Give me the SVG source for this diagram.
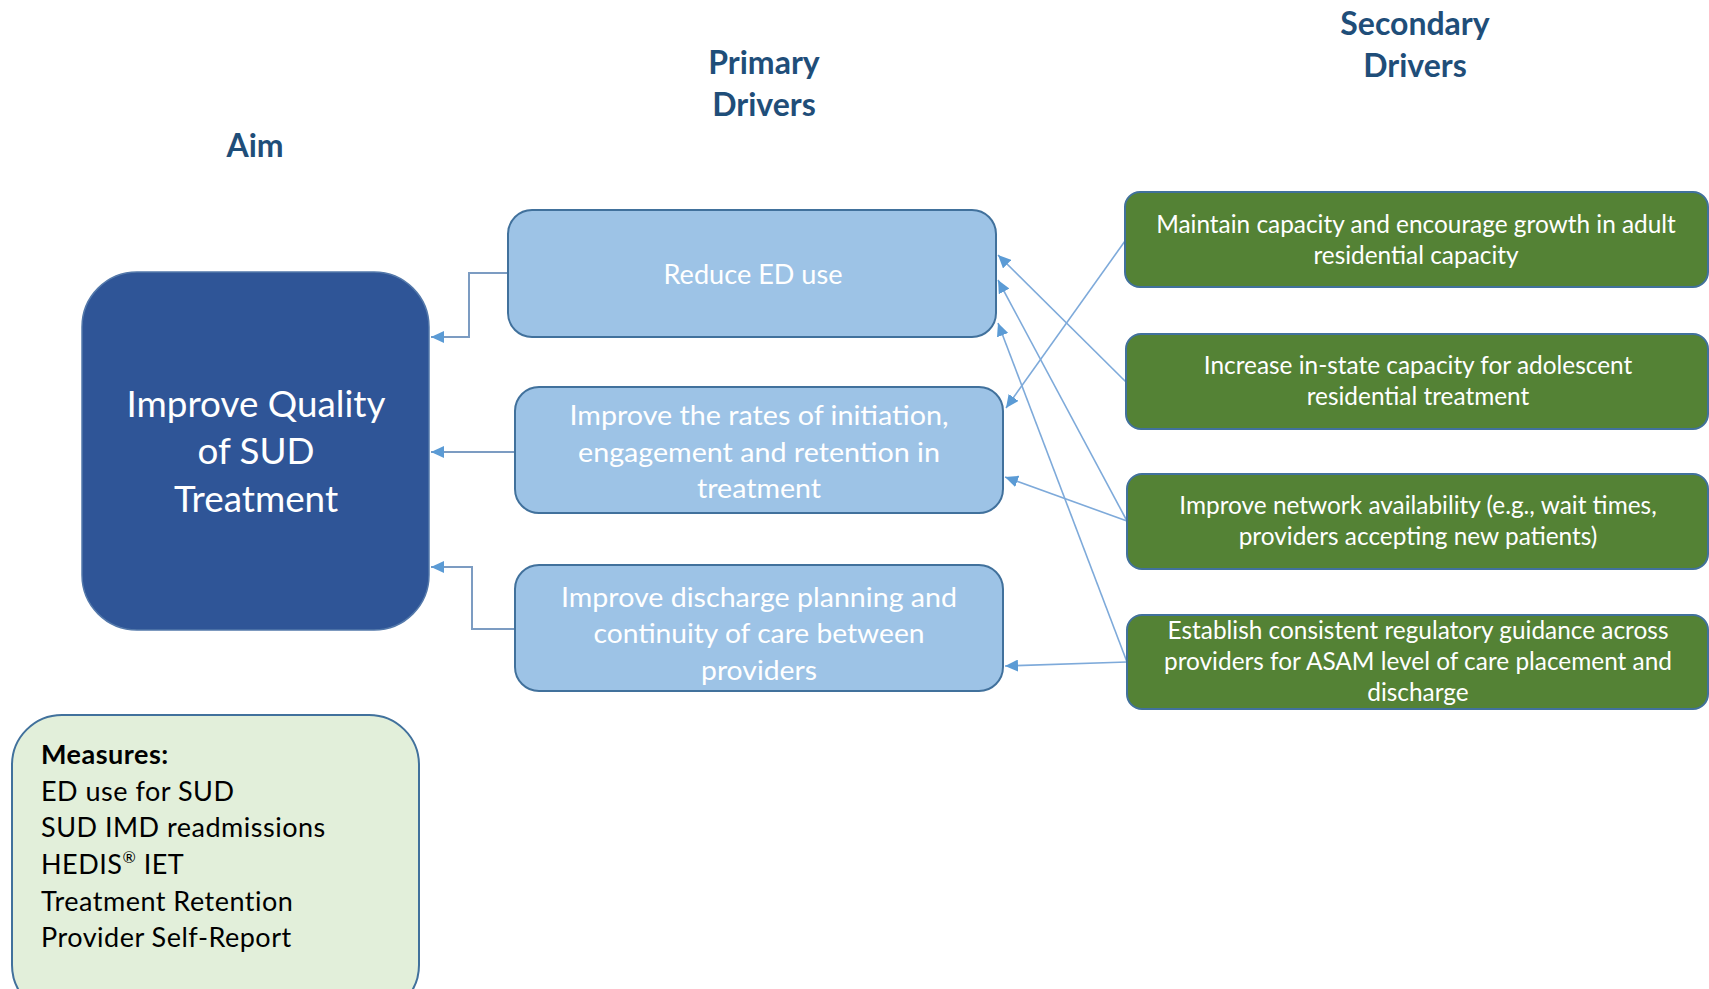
<svg xmlns="http://www.w3.org/2000/svg" width="1709" height="989" viewBox="0 0 1709 989">
<style>
.hdr{font-family:Lato,"Open Sans","Liberation Sans",sans-serif;font-weight:bold;font-size:32px;fill:#1F4E79;text-anchor:middle}
.aim{fill:#2F5597;stroke:#5378AA;stroke-width:1.5}
.aimt{font-family:Lato,"Open Sans","Liberation Sans",sans-serif;font-size:36.8px;fill:#FFFFFF;text-anchor:middle}
.pri{fill:#9DC3E6;stroke:#41719C;stroke-width:2}
.prit{font-family:Lato,"Open Sans","Liberation Sans",sans-serif;font-size:27px;fill:#FFFFFF;text-anchor:middle}
.sec{fill:#548235;stroke:#41719C;stroke-width:2}
.sect{font-family:Lato,"Open Sans","Liberation Sans",sans-serif;font-size:24.4px;fill:#FFFFFF;text-anchor:middle}
.meas{fill:#E2EFDA;stroke:#41719C;stroke-width:2}
.meast{font-family:Lato,"Open Sans","Liberation Sans",sans-serif;font-size:27px;letter-spacing:0.5px;fill:#000000}
.elb{fill:none;stroke:#7C9CC2;stroke-width:2}
.con{fill:none;stroke:#7EAADA;stroke-width:1.6}
</style>
<defs>
<marker id="ah" markerUnits="userSpaceOnUse" markerWidth="14" markerHeight="12" refX="13" refY="6" orient="auto">
<path d="M0,0 L13,6 L0,12 Z" fill="#5B9BD5"/>
</marker>
</defs>

<g id="headers">
<text class="hdr" x="255" y="157">Aim</text>
<text class="hdr" x="764" y="74">Primary</text>
<text class="hdr" x="764" y="116">Drivers</text>
<text class="hdr" x="1415" y="35">Secondary</text>
<text class="hdr" x="1415" y="77">Drivers</text>
</g>

<g id="connectors">
<path class="elb" d="M508,273 H469 V337 H431" marker-end="url(#ah)"/>
<path class="elb" d="M515,452 H431" marker-end="url(#ah)"/>
<path class="elb" d="M515,629 H472 V567 H431" marker-end="url(#ah)"/>
<path class="con" d="M1125,241 L1006,408" marker-end="url(#ah)"/>
<path class="con" d="M1126,382 L998,255" marker-end="url(#ah)"/>
<path class="con" d="M1127,521 L998,280" marker-end="url(#ah)"/>
<path class="con" d="M1127,521 L1005,477" marker-end="url(#ah)"/>
<path class="con" d="M1127,662 L998,323" marker-end="url(#ah)"/>
<path class="con" d="M1127,662 L1005,666" marker-end="url(#ah)"/>
</g>

<g id="aim">
<rect class="aim" x="82" y="272" width="347" height="358" rx="55" ry="55"/>
<text class="aimt" x="256" y="417">Improve Quality</text>
<text class="aimt" x="256" y="464">of SUD</text>
<text class="aimt" x="256" y="512">Treatment</text>
</g>

<g id="primary1">
<rect class="pri" x="508" y="210" width="488" height="127" rx="24" ry="24"/>
<text class="prit" x="753" y="284" textLength="179" lengthAdjust="spacingAndGlyphs">Reduce  ED use</text>
</g>

<g id="primary2">
<rect class="pri" x="515" y="387" width="488" height="126" rx="24" ry="24"/>
<text class="prit" x="759" y="425" textLength="379" lengthAdjust="spacingAndGlyphs">Improve the rates of initiation,</text>
<text class="prit" x="759" y="462" textLength="362" lengthAdjust="spacingAndGlyphs">engagement  and retention in</text>
<text class="prit" x="759" y="498" textLength="124" lengthAdjust="spacingAndGlyphs">treatment</text>
</g>

<g id="primary3">
<rect class="pri" x="515" y="565" width="488" height="126" rx="24" ry="24"/>
<text class="prit" x="759" y="607" textLength="396" lengthAdjust="spacingAndGlyphs">Improve discharge planning and</text>
<text class="prit" x="759" y="643" textLength="331" lengthAdjust="spacingAndGlyphs">continuity of care between</text>
<text class="prit" x="759" y="680" textLength="116" lengthAdjust="spacingAndGlyphs">providers</text>
</g>

<g id="secondary1">
<rect class="sec" x="1125" y="192" width="583" height="95" rx="15" ry="15"/>
<text class="sect" x="1416" y="233">Maintain capacity and encourage growth in adult</text>
<text class="sect" x="1416" y="264">residential capacity</text>
</g>

<g id="secondary2">
<rect class="sec" x="1126" y="334" width="582" height="95" rx="15" ry="15"/>
<text class="sect" x="1418" y="374">Increase in-state capacity for adolescent</text>
<text class="sect" x="1418" y="405">residential treatment</text>
</g>

<g id="secondary3">
<rect class="sec" x="1127" y="474" width="581" height="95" rx="15" ry="15"/>
<text class="sect" x="1418" y="514">Improve network availability (e.g., wait times,</text>
<text class="sect" x="1418" y="545">providers accepting new patients)</text>
</g>

<g id="secondary4">
<rect class="sec" x="1127" y="615" width="581" height="94" rx="15" ry="15"/>
<text class="sect" x="1418" y="639">Establish consistent regulatory guidance across</text>
<text class="sect" x="1418" y="670">providers for ASAM  level of care placement and</text>
<text class="sect" x="1418" y="701">discharge</text>
</g>

<g id="measures">
<rect class="meas" x="12" y="715" width="407" height="300" rx="50" ry="50"/>
<text class="meast" x="41" y="764" font-weight="bold">Measures:</text>
<text class="meast" x="41" y="801">ED use for SUD</text>
<text class="meast" x="41" y="837">SUD IMD readmissions</text>
<text class="meast" x="41" y="874">HEDIS<tspan font-size="16" dy="-11">®</tspan><tspan dy="11"> IET</tspan></text>
<text class="meast" x="41" y="911">Treatment Retention</text>
<text class="meast" x="41" y="947">Provider Self-Report</text>
</g>
</svg>
